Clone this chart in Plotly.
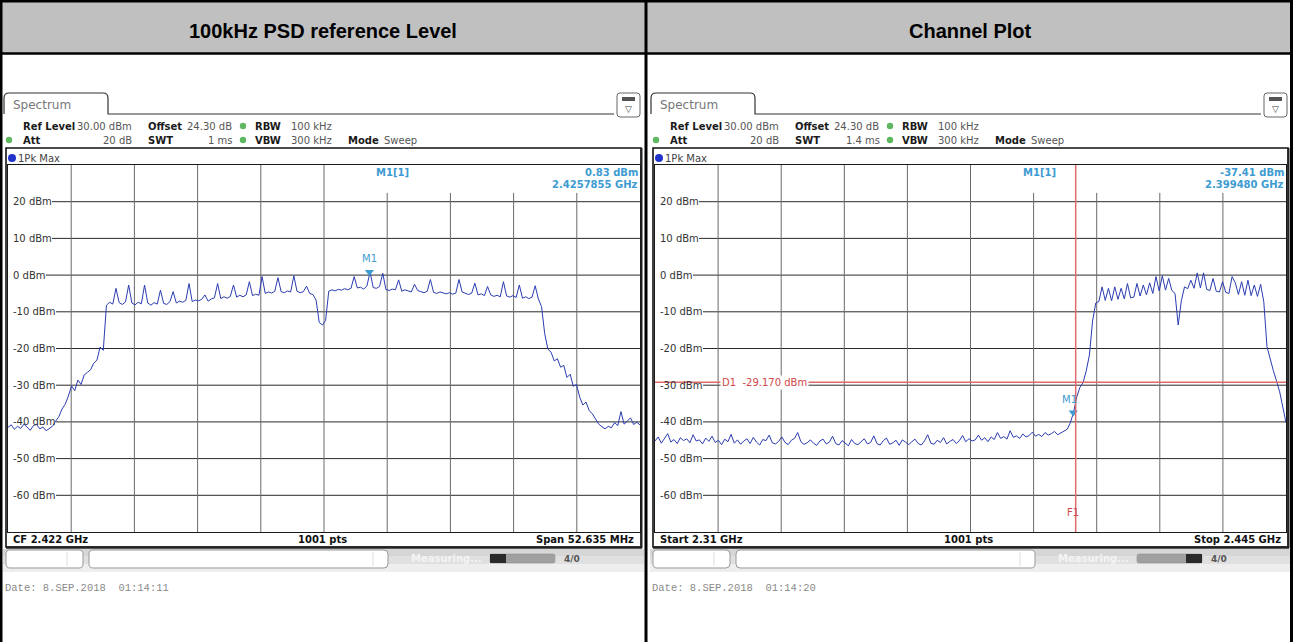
import numpy as np
import plotly.graph_objects as go

W, H = 1293, 642

# ---- sweep settings -------------------------------------------------------
psd_cf_ghz = 2.422
psd_span_ghz = 0.052635
ch_start_ghz = 2.31
ch_stop_ghz = 2.445
level_top = 30
level_bottom = -70
level_ticks = [20, 10, 0, -10, -20, -30, -40, -50, -60]

panel_titles = ["100kHz PSD reference Level", "Channel Plot"]
swt_values = ["1 ms", "1.4 ms"]
date_stamps = ["Date: 8.SEP.2018\u00a0\u00a001:14:11", "Date: 8.SEP.2018\u00a0\u00a001:14:20"]

# 1Pk Max trace, PSD reference sweep (dBm)
psd_level_dbm = [
    -41.5, -40.8, -42.0, -41.2, -41.8, -40.6, -41.4, -42.3, -41.0, -40.7,
    -41.9, -41.4, -42.4, -41.8, -41.2, -39.8, -38.6, -36.5, -35.2, -33.0,
    -30.2, -31.5, -28.6, -29.8, -27.2, -26.5, -25.8, -24.0, -23.2, -19.6,
    -20.5, -8.2, -7.4, -7.9, -3.6, -7.5, -8.0, -7.3, -2.7, -7.6,
    -8.1, -7.4, -7.8, -2.7, -7.6, -8.2, -7.5, -7.9, -4.1, -7.7,
    -8.0, -7.2, -4.5, -7.6, -7.1, -7.4, -6.9, -2.3, -7.2, -6.8,
    -7.0, -6.6, -5.4, -7.1, -6.5, -6.2, -2.3, -6.4, -5.9, -6.3,
    -5.8, -2.7, -6.0, -5.5, -5.9, -5.4, -1.8, -5.6, -5.2, -5.5,
    -0.4, -5.0, -4.6, -4.9, -4.4, -0.7, -4.5, -4.8, -4.3, -4.6,
    -0.2, -4.4, -4.8, -4.5, -3.0, -5.0, -5.3, -6.8, -12.9, -13.6,
    -12.4, -4.4, -4.0, -4.3, -3.9, -4.1, -3.7, -4.0, -3.6, -0.4,
    -3.5, -3.3, -3.8, -3.0, 0.83, -3.4, -3.6, -3.1, 0.5, -3.9,
    -4.2, -3.8, -4.0, -1.3, -4.4, -4.0, -4.3, -4.6, -2.5, -4.2,
    -4.5, -4.8, -4.4, -1.2, -4.7, -5.0, -4.6, -4.9, -5.1, -4.8,
    -5.2, -4.9, -1.2, -4.6, -5.0, -5.3, -4.9, -2.2, -5.4, -5.1,
    -5.6, -3.1, -5.4, -5.8, -5.5, -5.9, -1.8, -5.7, -6.0, -5.6,
    -6.1, -2.7, -6.3, -5.9, -6.4, -6.0, -2.9, -6.5, -8.6, -16.0,
    -20.2, -21.0, -23.4, -22.8, -25.1, -24.6, -27.9, -27.0, -30.3, -29.8,
    -33.2, -35.4, -34.6, -36.9, -37.8, -39.2, -40.6, -41.3, -41.9, -41.2,
    -41.6, -40.2, -41.0, -37.2, -40.6, -39.8, -38.9, -40.7, -40.1, -40.8,
]

# 1Pk Max trace, channel sweep (dBm)
channel_level_dbm = [
    -45.2, -44.1, -45.8, -44.6, -43.2, -45.5, -44.8, -45.9, -44.3, -45.1,
    -44.6, -45.7, -43.5, -45.2, -44.9, -46.0, -44.4, -45.3, -43.9, -45.6,
    -45.0, -46.2, -44.7, -45.4, -43.4, -45.8, -44.9, -46.1, -45.2, -44.6,
    -45.9, -44.2, -45.5, -46.3, -44.8, -45.1, -43.6, -45.7, -46.0, -45.3,
    -44.1, -45.6, -46.2, -45.0, -44.5, -42.9, -45.4, -46.1, -45.7, -44.9,
    -45.8, -46.4, -45.2, -44.7, -46.0, -45.5, -43.9, -45.9, -46.3, -45.1,
    -45.7, -46.5, -44.8, -45.9, -46.2, -45.3, -44.6, -46.0, -45.6, -43.8,
    -45.9, -46.3, -45.1, -44.4, -46.1, -45.7, -45.0, -46.4, -44.9, -45.5,
    -46.2, -45.4, -44.7, -45.9, -46.3, -45.2, -43.5, -45.8, -46.1, -45.0,
    -45.6, -44.3, -46.0, -45.3, -44.8, -45.9, -45.1, -43.7, -45.4, -44.6,
    -45.2, -44.9, -43.6, -45.0, -44.3, -45.4, -44.1, -44.8, -42.9, -44.5,
    -44.0, -44.7, -42.4, -44.2, -43.8, -44.5, -43.3, -44.1, -43.7, -42.8,
    -43.9, -43.4, -44.0, -42.9, -43.6, -43.2, -42.6, -43.5, -43.0, -42.7,
    -42.0, -40.2, -37.41, -33.2, -30.6, -29.3, -26.1, -21.8, -12.5, -7.6,
    -7.2, -3.2, -6.9, -3.6, -7.0, -3.2, -6.6, -3.6, -6.5, -2.3,
    -6.2, -6.0, -2.3, -5.7, -2.7, -5.4, -2.1, -5.0, -0.4, -4.3,
    -0.2, -4.1, -0.9, -4.2, -5.0, -13.6, -7.0, -3.2, -3.7, -1.4,
    -3.6, 0.6, -3.5, 0.6, -3.9, -4.2, -0.9, -4.4, -4.6, -1.8,
    -4.7, -5.0, -0.4, -2.1, -5.3, -1.8, -5.5, -1.4, -5.6, -2.7,
    -5.8, -2.5, -7.3, -19.5, -23.0, -26.0, -28.8, -31.8, -36.0, -40.2,
]

# markers / lines
psd_m1 = (2.4257855, 0.83)
ch_m1 = (2.399480, -37.41)
ch_d1_dbm = -29.170
ch_f1_ghz = 2.40

psd_start = psd_cf_ghz - psd_span_ghz / 2
psd_stop = psd_cf_ghz + psd_span_ghz / 2
psd_freq = np.linspace(psd_start, psd_stop, len(psd_level_dbm))
ch_freq = np.linspace(ch_start_ghz, ch_stop_ghz, len(channel_level_dbm))

TRACE = "#2b3cb2"
MARK = "#3d9bd1"
RED = "#e06a6a"

shapes = []
annotations = []


def X(px):
    return px / W


def Y(py):
    return 1 - py / H


def rect(x0, y0, x1, y1, fill=None, line=None, lw=1, layer="above"):
    shapes.append(dict(type="rect", xref="paper", yref="paper",
                       x0=X(x0), x1=X(x1), y0=Y(y1), y1=Y(y0),
                       fillcolor=fill or "rgba(0,0,0,0)",
                       line=dict(color=line or "rgba(0,0,0,0)", width=lw if line else 0),
                       layer=layer))


def seg(x0, y0, x1, y1, color="#000", lw=1, layer="above"):
    shapes.append(dict(type="line", xref="paper", yref="paper",
                       x0=X(x0), x1=X(x1), y0=Y(y0), y1=Y(y1),
                       line=dict(color=color, width=lw), layer=layer))


def path(cmds, fill=None, line="#888", lw=1, layer="above"):
    out = []
    for c in cmds:
        op, pts = c[0], c[1:]
        coords = " ".join("%.6f,%.6f" % (X(pts[i]), Y(pts[i + 1])) for i in range(0, len(pts), 2))
        out.append(op + " " + coords if coords else op)
    shapes.append(dict(type="path", xref="paper", yref="paper", path=" ".join(out),
                       fillcolor=fill or "rgba(0,0,0,0)",
                       line=dict(color=line, width=lw), layer=layer))


def rounded(x0, y0, x1, y1, r, fill="white", line="#999", lw=1):
    path([("M", x0 + r, y0), ("L", x1 - r, y0), ("Q", x1, y0, x1, y0 + r),
          ("L", x1, y1 - r), ("Q", x1, y1, x1 - r, y1), ("L", x0 + r, y1),
          ("Q", x0, y1, x0, y1 - r), ("L", x0, y0 + r), ("Q", x0, y0, x0 + r, y0), ("Z",)],
         fill=fill, line=line, lw=lw)


def dot(cx, cy, r, color):
    shapes.append(dict(type="circle", xref="paper", yref="paper",
                       x0=X(cx - r), x1=X(cx + r), y0=Y(cy + r), y1=Y(cy - r),
                       fillcolor=color, line=dict(width=0)))


def txt(s, x, y, size=10, color="#222", bold=False, anchor="left",
        family="DejaVu Sans", bg=None):
    annotations.append(dict(xref="paper", yref="paper", x=X(x), y=Y(y),
                            text="<b>%s</b>" % s if bold else s, showarrow=False,
                            xanchor=anchor, yanchor="middle", borderpad=0,
                            bgcolor=bg or "rgba(0,0,0,0)",
                            font=dict(family=family, size=size, color=color)))


# ---- table frame and header --------------------------------------------
rect(2, 2, 1291, 53, fill="#c0c0c0", layer="below")
seg(0, 1, W, 1, lw=3)
seg(1, 0, 1, H, lw=3)
seg(1291.5, 0, 1291.5, H, lw=3)
seg(646, 0, 646, H, lw=3)
seg(0, 53.5, W, 53.5, lw=2.5)
txt(panel_titles[0], 323, 31, size=20, color="#000", bold=True, anchor="center",
    family="Liberation Sans, Arial")
txt(panel_titles[1], 970, 31, size=20, color="#000", bold=True, anchor="center",
    family="Liberation Sans, Arial")

# ---- instrument window chrome (per panel) --------------------------------
for k, ox in enumerate([0, 647]):
    # tab
    path([("M", ox + 4, 114), ("L", ox + 4, 98), ("Q", ox + 4, 93, ox + 9, 93),
          ("L", ox + 103, 93), ("Q", ox + 108, 93, ox + 108, 98),
          ("L", ox + 108, 114), ("L", ox + 614, 114)], line="#333", lw=1.2)
    txt("Spectrum", ox + 12, 105, size=12, color="#777")
    # window menu icon
    rounded(ox + 617, 93, ox + 640, 117, 3, fill="white", line="#666", lw=1)
    rect(ox + 622, 97, ox + 635, 101, fill="#555")
    txt("\u25bd", ox + 628.5, 109.5, size=9, color="#444", anchor="center")

    # settings rows
    for lbl, xx, anc, b in [("Ref Level", 22, "left", True), ("30.00 dBm", 133, "right", False),
                            ("Offset", 147, "left", True), ("24.30 dB", 186, "left", False),
                            ("RBW", 254, "left", True), ("100 kHz", 290, "left", False)]:
        txt(lbl, ox + xx, 126, color="#1a1a1a" if b else "#555", bold=b, anchor=anc)
    for lbl, xx, anc, b in [("Att", 22, "left", True), ("20 dB", 133, "right", False),
                            ("SWT", 147, "left", True), (swt_values[k], 234, "right", False),
                            ("VBW", 254, "left", True), ("300 kHz", 290, "left", False),
                            ("Mode", 347, "left", True), ("Sweep", 383, "left", False)]:
        txt(lbl, ox + xx, 140, color="#1a1a1a" if b else "#555", bold=b, anchor=anc)
    dot(ox + 243, 126, 3.2, "#5fb85f")
    dot(ox + 243, 140, 3.2, "#5fb85f")
    dot(ox + 9, 140, 3.2, "#5fb85f")

    # diagram frame
    rect(ox + 6, 148, ox + 641, 547, line="#111", lw=1.6)
    seg(ox + 6, 547.5, ox + 642, 547.5, color="#222", lw=2.5)
    seg(ox + 641.5, 148, ox + 641.5, 548, color="#222", lw=2)
    dot(ox + 12, 158, 4, "#2233cc")
    txt("1Pk Max", ox + 17, 158, size=10, color="#444")

    # status bar
    rect(ox + 3, 549, ox + 644, 556, fill="#d6d6d6", layer="below")
    rect(ox + 3, 556, ox + 644, 564, fill="#e0e0e0", layer="below")
    rect(ox + 3, 564, ox + 644, 572, fill="#eeeeee", layer="below")
    rounded(ox + 6, 550, ox + 83, 568, 4, fill="white", line="#999", lw=1)
    seg(ox + 67, 552, ox + 67, 566, color="#ddd", lw=1)
    rounded(ox + 89, 550, ox + 388, 568, 4, fill="white", line="#999", lw=1)
    seg(ox + 373, 552, ox + 373, 566, color="#ddd", lw=1)
    txt("Measuring...", ox + 410, 558, size=10, color="#f4f4f4", bold=True)
    rounded(ox + 490, 554, ox + 555, 563, 2, fill="#a0a0a0", line="#8a8a8a", lw=0.5)
    if k == 0:
        rect(ox + 490, 554, ox + 506, 563, fill="#2a2a2a")
    else:
        rect(ox + 539, 554, ox + 555, 563, fill="#2a2a2a")
    txt("4/0", ox + 563, 559, size=9, color="#555", bold=True)

    txt(date_stamps[k], ox + 4, 588, size=10.5, color="#8a8a8a", family="Liberation Mono")

# ---- footer labels (sweep axis) -------------------------------------------
txt("CF %.3f GHz" % psd_cf_ghz, 12, 539.5, bold=True, color="#111")
txt("%d pts" % 1001, 322, 539.5, bold=True, color="#111", anchor="center")
txt("Span %.3f MHz" % (psd_span_ghz * 1000), 635, 539.5, bold=True, color="#111", anchor="right")
txt("Start %.2f GHz" % ch_start_ghz, 659, 539.5, bold=True, color="#111")
txt("%d pts" % 1001, 969, 539.5, bold=True, color="#111", anchor="center")
txt("Stop %.3f GHz" % ch_stop_ghz, 1282, 539.5, bold=True, color="#111", anchor="right")

# ---- grid, level labels ---------------------------------------------------
label_px = {20: 39, 10: 39, 0: 33, -10: 43, -20: 43, -30: 43, -40: 43, -50: 43, -60: 43}
for xa, ya, start, stop, wpx in [("x", "y", psd_start, psd_stop, 632),
                                  ("x2", "y2", ch_start_ghz, ch_stop_ghz, 631)]:
    for lv in level_ticks:
        shapes.append(dict(type="line", xref=xa + " domain", yref=ya,
                           x0=(5 + label_px[lv]) / wpx, x1=1, y0=lv, y1=lv,
                           line=dict(color="#2a2a2a", width=1), layer="below"))
        annotations.append(dict(xref=xa + " domain", yref=ya, x=4 / wpx, y=lv,
                                text="%d dBm" % lv, showarrow=False, xanchor="left",
                                yanchor="middle", borderpad=0,
                                font=dict(family="DejaVu Sans", size=10, color="#333")))
    step = (stop - start) / 10
    for j in range(1, 10):
        top = level_top if j <= 5 else 22.4
        shapes.append(dict(type="line", xref=xa, yref=ya,
                           x0=start + j * step, x1=start + j * step,
                           y0=level_bottom, y1=top,
                           line=dict(color="#6a6a6a", width=1), layer="below"))

# ---- marker readouts ------------------------------------------------------
for xa, ya, (mf, ml), fmt, wpx in [("x", "y", psd_m1, "%.7f GHz", 632),
                                    ("x2", "y2", ch_m1, "%.6f GHz", 631)]:
    annotations.append(dict(xref=xa + " domain", yref=ya, x=384 / wpx, y=28.0,
                            text="<b>M1[1]</b>", showarrow=False, xanchor="center",
                            yanchor="middle", borderpad=0,
                            font=dict(family="DejaVu Sans", size=10, color=MARK)))
    annotations.append(dict(xref=xa + " domain", yref=ya, x=1 - 1 / wpx, y=28.0,
                            text="<b>%.2f dBm</b>" % ml, showarrow=False, xanchor="right",
                            yanchor="middle", borderpad=0,
                            font=dict(family="DejaVu Sans", size=10, color=MARK)))
    annotations.append(dict(xref=xa + " domain", yref=ya, x=1 - 1 / wpx, y=24.7,
                            text="<b>" + fmt % mf + "</b>", showarrow=False, xanchor="right",
                            yanchor="middle", borderpad=0,
                            font=dict(family="DejaVu Sans", size=10, color=MARK)))

annotations.append(dict(xref="x", yref="y", x=psd_m1[0], y=psd_m1[1], text="M1",
                        showarrow=False, yshift=14, xanchor="center", yanchor="middle",
                        font=dict(family="DejaVu Sans", size=10, color=MARK)))
annotations.append(dict(xref="x2", yref="y2", x=ch_m1[0], y=ch_m1[1], text="M1",
                        showarrow=False, yshift=13, xshift=-4, xanchor="center", yanchor="middle",
                        font=dict(family="DejaVu Sans", size=10, color=MARK)))

# ---- display line D1 and frequency line F1 -------------------------------
shapes.append(dict(type="line", xref="x2 domain", yref="y2", x0=0, x1=1,
                   y0=ch_d1_dbm, y1=ch_d1_dbm, line=dict(color=RED, width=1.5), layer="above"))
shapes.append(dict(type="line", xref="x2", yref="y2 domain", x0=ch_f1_ghz, x1=ch_f1_ghz,
                   y0=0, y1=1, line=dict(color=RED, width=1.5), layer="above"))
annotations.append(dict(xref="x2 domain", yref="y2", x=65 / 631, y=ch_d1_dbm,
                        text="D1\u00a0\u00a0%.3f dBm" % ch_d1_dbm, showarrow=False,
                        xanchor="left", yanchor="middle", borderpad=1, bgcolor="white",
                        font=dict(family="DejaVu Sans", size=10, color="#d04848")))
annotations.append(dict(xref="x2", yref="y2", x=ch_f1_ghz, y=-64.8, text="F1",
                        showarrow=False, xanchor="center", yanchor="middle", xshift=-3,
                        font=dict(family="DejaVu Sans", size=10, color="#d04848")))

# ---- figure ---------------------------------------------------------------
fig = go.Figure()
fig.add_trace(go.Scatter(x=psd_freq, y=psd_level_dbm, mode="lines",
                         line=dict(color=TRACE, width=1), xaxis="x", yaxis="y",
                         hoverinfo="skip", showlegend=False))
fig.add_trace(go.Scatter(x=ch_freq, y=channel_level_dbm, mode="lines",
                         line=dict(color=TRACE, width=1), xaxis="x2", yaxis="y2",
                         hoverinfo="skip", showlegend=False))
fig.add_trace(go.Scatter(x=[psd_m1[0]], y=[psd_m1[1]], mode="markers",
                         marker=dict(symbol="triangle-down", size=8, color=MARK),
                         xaxis="x", yaxis="y", hoverinfo="skip", showlegend=False))
fig.add_trace(go.Scatter(x=[ch_m1[0]], y=[ch_m1[1]], mode="markers",
                         marker=dict(symbol="triangle-down", size=8, color=MARK),
                         xaxis="x2", yaxis="y2", hoverinfo="skip", showlegend=False))

ydom = [1 - 532 / H, 1 - 165 / H]
axis_common = dict(showgrid=False, zeroline=False, showticklabels=False, ticks="",
                   showline=True, mirror=True, linecolor="#1a1a1a", linewidth=1,
                   fixedrange=True)
fig.update_layout(
    width=W, height=H, autosize=False,
    margin=dict(l=0, r=0, t=0, b=0),
    paper_bgcolor="white", plot_bgcolor="white",
    xaxis=dict(domain=[8 / W, 640 / W], range=[psd_start, psd_stop], anchor="y", **axis_common),
    yaxis=dict(domain=ydom, range=[level_bottom, level_top], anchor="x", **axis_common),
    xaxis2=dict(domain=[655 / W, 1286 / W], range=[ch_start_ghz, ch_stop_ghz], anchor="y2",
                **axis_common),
    yaxis2=dict(domain=ydom, range=[level_bottom, level_top], anchor="x2", **axis_common),
    shapes=shapes,
    annotations=annotations,
)

fig.write_html("out.html", config={"displayModeBar": False, "staticPlot": True})
